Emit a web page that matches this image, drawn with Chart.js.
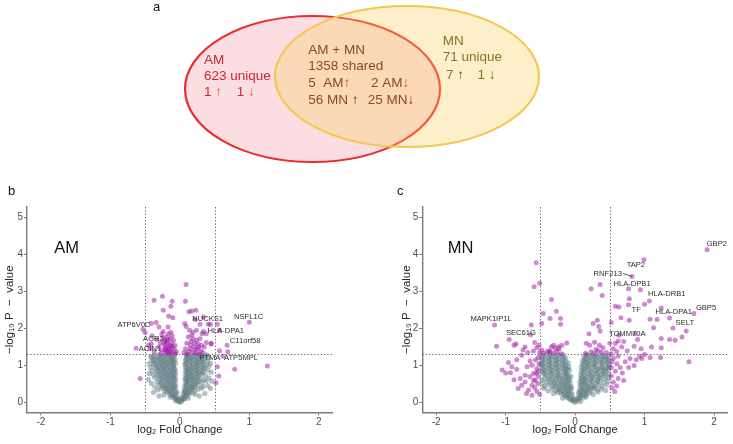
<!DOCTYPE html>
<html>
<head>
<meta charset="utf-8">
<script src="https://cdn.jsdelivr.net/npm/chart.js@4.4.1/dist/chart.umd.min.js"></script>
<style>
body { margin: 0; background: #fff; }
#wrap { position: relative; width: 733px; height: 444px; font-family: Arial, "Liberation Sans", sans-serif; }
#wrap canvas { position: absolute; }
.tag { position: absolute; font-size: 13px; color: #111; line-height: 13px; }
</style>
</head>
<body>
<div id="wrap">
  <canvas id="venn" width="733" height="200" style="left:0;top:0"></canvas>
  <canvas id="volcano-am" width="367" height="244" style="left:0;top:200px"></canvas>
  <canvas id="volcano-mn" width="366" height="244" style="left:367px;top:200px"></canvas>
  <div class="tag" style="left:153px;top:0px">a</div>
  <div class="tag" style="left:8px;top:184px">b</div>
  <div class="tag" style="left:397px;top:184px">c</div>
</div>
<script>
// ---- data ----
const vennSets = ['AM', 'AM + MN', 'MN'];
const vennCounts = [623, 1358, 71];
const vennKinds = ['unique', 'shared', 'unique'];
const amOnlyUpDown = [1, 1];
const sharedAmUpDown = [5, 2];
const sharedMnUpDown = [56, 25];
const mnOnlyUpDown = [7, 1];

const xTicks = [-2, -1, 0, 1, 2];
const yTicks = [0, 1, 2, 3, 4, 5];
const fcCut = 0.5;
const pCut = 0.05;

// AM: significant / changed proteins [log2FC, -log10 p]
const amSig = [
  [0.09,3.18],[-0.37,2.76],[-0.25,2.87],[-0.11,2.73],[0.08,2.73],[-0.24,2.49],[-0.13,2.60],[0.13,2.45],
  [0.17,2.47],[0.23,2.49],[-0.16,2.33],[-0.10,2.29],[0.34,2.31],[0.22,2.24],[0.29,2.11],[0.41,2.11],
  [0.54,2.11],[1.00,2.17],[0.07,2.13],[0.44,2.11],
  [-0.41,2.13],[-0.34,2.16],[-0.53,1.98],[-0.50,1.89],[-0.30,2.04],[-0.24,1.92],[-0.17,2.04],[-0.13,1.90],
  [-0.19,1.77],[-0.22,1.68],[-0.63,1.47],[-0.41,1.59],[-0.43,1.46],[-0.37,1.37],
  [-0.22,1.55],[-0.18,1.50],[-0.12,1.60],[-0.08,1.45],[-0.15,1.40],[-0.20,1.35],[-0.10,1.35],[-0.05,1.38],
  [-0.25,1.42],[-0.28,1.60],[-0.30,1.50],[-0.14,1.72],[-0.19,1.65],[-0.07,1.55],[-0.24,1.75],[-0.26,1.85],
  [-0.17,1.85],[-0.11,1.80],[-0.33,1.70],[-0.40,1.80],[-0.45,1.55],[-0.16,1.32],[-0.12,1.47],[-0.21,1.42],
  [-0.09,1.68],[-0.27,1.33],[-0.06,1.32],[-0.18,1.60],[-0.14,1.55],[-0.16,1.45],[-0.13,1.36],[-0.19,1.40],
  [-0.23,1.62],[-0.11,1.52],[-0.17,1.70],[-0.21,1.48],
  [0.12,1.77],[0.17,1.82],[0.24,1.68],[0.29,1.72],[0.10,1.60],[0.15,1.55],[0.20,1.50],[0.25,1.45],
  [0.30,1.40],[0.08,1.45],[0.13,1.38],[0.18,1.35],[0.23,1.33],[0.28,1.32],[0.33,1.35],[0.35,1.50],
  [0.38,1.62],[0.06,1.35],[0.10,1.32],[0.16,1.65],[0.21,1.60],[0.26,1.58],[0.31,1.55],[0.19,1.90],
  [0.24,1.95],[0.14,1.95],[0.09,2.05],[0.32,1.86],[0.38,1.86],[0.34,1.92],[0.45,1.58],[0.57,1.95],
  [0.68,1.55],[0.57,1.40],[0.69,1.37],[0.45,1.60],[0.22,1.42],[0.27,1.50],[0.15,1.45],[0.19,1.72],
  [-0.57,0.65],[1.26,0.99],[0.79,0.90],[0.54,0.97],[0.56,0.72],[0.52,0.54],[0.62,1.25]
];
// AM: not significant
const amGray = [
  [0,0.01],[-0.02,0.04],[0.02,0.03],[0.04,0.07],[-0.04,0.08],[0.01,0.09],[-0.06,0.05],[0.06,0.1],
  [-0.08,0.13],[-0.05,0.16],[-0.02,0.12],[0.03,0.15],[0.07,0.13],[0.1,0.18],[-0.11,0.19],[0.12,0.12],[-0.14,0.15],
  [-0.15,0.24],[-0.11,0.27],[-0.07,0.22],[-0.04,0.28],[0.05,0.25],[0.08,0.22],[0.11,0.28],[0.14,0.24],[-0.19,0.29],[0.18,0.27],[-0.23,0.21],[0.22,0.23],
  [-0.22,0.33],[-0.18,0.37],[-0.14,0.32],[-0.1,0.36],[-0.06,0.39],[0.06,0.34],[0.09,0.38],[0.13,0.33],[0.17,0.37],[0.21,0.32],[-0.27,0.38],[0.26,0.36],[-0.32,0.34],[0.31,0.39],
  [-0.25,0.43],[-0.21,0.47],[-0.17,0.42],[-0.13,0.46],[-0.09,0.43],[-0.06,0.48],[0.07,0.44],[0.1,0.48],[0.14,0.42],[0.18,0.46],[0.22,0.43],[0.26,0.48],[-0.3,0.47],[-0.36,0.42],[0.33,0.44],[0.4,0.46],
  [-0.28,0.53],[-0.23,0.57],[-0.19,0.52],[-0.15,0.56],[-0.11,0.53],[-0.07,0.58],[0.08,0.54],[0.11,0.58],[0.15,0.52],[0.19,0.56],[0.23,0.53],[0.27,0.58],[-0.33,0.56],[-0.41,0.52],[0.32,0.55],[0.38,0.59],
  [-0.3,0.63],[-0.25,0.67],[-0.21,0.62],[-0.17,0.66],[-0.13,0.63],[-0.09,0.68],[-0.06,0.64],[0.07,0.65],[0.1,0.68],[0.13,0.62],[0.17,0.66],[0.21,0.63],[0.25,0.68],[0.29,0.64],[-0.36,0.68],[0.35,0.62],[0.42,0.67],
  [-0.32,0.73],[-0.27,0.77],[-0.23,0.72],[-0.19,0.76],[-0.15,0.73],[-0.11,0.78],[-0.07,0.74],[0.08,0.75],[0.12,0.72],[0.15,0.78],[0.19,0.73],[0.23,0.77],[0.27,0.72],[0.31,0.76],[-0.38,0.75],[-0.44,0.79],[0.37,0.74],
  [-0.34,0.83],[-0.29,0.87],[-0.25,0.82],[-0.21,0.86],[-0.17,0.83],[-0.13,0.88],[-0.09,0.84],[-0.06,0.81],[0.08,0.85],[0.11,0.82],[0.14,0.88],[0.18,0.83],[0.22,0.87],[0.26,0.82],[0.3,0.86],[0.34,0.84],[-0.4,0.86],[0.4,0.88],[0.45,0.82],
  [-0.35,0.93],[-0.31,0.97],[-0.27,0.92],[-0.23,0.96],[-0.19,0.93],[-0.15,0.98],[-0.11,0.94],[-0.07,0.91],[0.08,0.95],[0.12,0.92],[0.16,0.98],[0.2,0.93],[0.24,0.97],[0.28,0.92],[0.32,0.96],[0.36,0.93],[-0.42,0.95],[0.42,0.99],
  [-0.38,1.03],[-0.33,1.07],[-0.29,1.02],[-0.25,1.06],[-0.21,1.03],[-0.17,1.08],[-0.13,1.04],[-0.09,1.01],[-0.06,1.07],[0.07,1.04],[0.1,1.08],[0.14,1.02],[0.18,1.06],[0.22,1.03],[0.26,1.08],[0.3,1.04],[0.34,1.07],[0.38,1.02],[-0.44,1.05],[0.44,1.06],
  [-0.4,1.13],[-0.35,1.17],[-0.31,1.12],[-0.27,1.16],[-0.23,1.13],[-0.19,1.18],[-0.15,1.14],[-0.11,1.11],[-0.07,1.17],[0.08,1.14],[0.11,1.18],[0.15,1.12],[0.19,1.16],[0.23,1.13],[0.27,1.18],[0.31,1.14],[0.35,1.17],[0.4,1.12],
  [-0.42,1.23],[-0.37,1.27],[-0.33,1.22],[-0.28,1.26],[-0.24,1.23],[-0.2,1.28],[-0.16,1.24],[-0.12,1.21],[-0.08,1.27],[0.09,1.24],[0.12,1.28],[0.16,1.22],[0.2,1.26],[0.24,1.23],[0.28,1.28],[0.32,1.24],[0.37,1.27],[0.41,1.21],
  [-0.03,0.06],[0.03,0.1],[-0.06,0.11],[0.06,0.16],[-0.09,0.18],[0.09,0.2],[-0.12,0.23],[-0.05,0.26],[0.07,0.28],[0.12,0.26],
  [-0.16,0.31],[-0.08,0.33],[0.08,0.31],[0.15,0.35],[-0.2,0.39],[-0.12,0.4],[0.11,0.39],[0.19,0.41],[-0.23,0.45],[-0.15,0.49],
  [-0.08,0.46],[0.09,0.47],[0.16,0.45],[0.21,0.49],[-0.26,0.55],[-0.17,0.59],[-0.09,0.55],[0.1,0.56],[0.17,0.6],[0.25,0.55],
  [-0.27,0.65],[-0.19,0.69],[-0.11,0.66],[0.09,0.63],[0.15,0.69],[0.23,0.66],[-0.29,0.75],[-0.21,0.79],[-0.13,0.76],[-0.09,0.71],
  [0.1,0.77],[0.17,0.75],[0.25,0.79],[-0.31,0.85],[-0.23,0.89],[-0.15,0.86],[-0.08,0.89],[0.1,0.88],[0.16,0.85],[0.24,0.89],
  [0.32,0.81],[-0.33,0.95],[-0.25,0.99],[-0.17,0.96],[-0.09,0.99],[0.1,0.97],[0.18,0.95],[0.26,0.99],[0.34,0.95],[-0.36,1.05],
  [-0.27,1.09],[-0.19,1.06],[-0.11,1.09],[0.09,1.06],[0.16,1.09],[0.24,1.06],[0.32,1.09],[-0.38,1.15],[-0.29,1.19],[-0.21,1.16],
  [-0.13,1.19],[-0.09,1.13],[0.1,1.16],[0.17,1.19],[0.25,1.15],[0.33,1.19],[-0.4,1.25],[-0.3,1.29],[-0.22,1.26],[-0.14,1.29],
  [-0.1,1.23],[0.1,1.27],[0.14,1.25],[0.22,1.29],[0.3,1.26],[0.39,1.29],
  [-0.38,0.28],[0.36,0.25],[0.44,0.38],[-0.45,0.62],[0.46,0.58],[0.28,0.18],[-0.3,0.18]
];
const amGenes = ['ATP6V0C', 'AGR2', 'ACIN1', 'NUCKS1', 'NSFL1C', 'HLA-DPA1', 'C11orf58', 'PTMA', 'ATP5MPL'];
const amGeneX = [-0.66, -0.38, -0.43, 0.40, 0.99, 0.66, 0.94, 0.43, 0.88];
const amGeneY = [2.09, 1.73, 1.46, 2.27, 2.31, 1.94, 1.67, 1.20, 1.21];

// MN: significant / changed proteins
const mnSig = [
  [1.90,4.12],[0.99,3.85],[0.82,3.40],[-0.56,3.77],[-0.51,3.22],[-0.59,3.12],[0.23,3.07],[0.36,3.18],
  [0.39,2.89],[0.77,3.07],[0.94,3.04],[1.07,2.74],[1.00,2.65],[0.78,2.80],
  [-0.34,2.78],[-0.27,2.46],[-0.21,2.27],[-0.21,2.11],[-0.36,2.27],[-0.46,2.40],[-0.48,2.13],
  [0.58,2.60],[0.63,2.58],[0.77,2.64],[0.78,2.22],[1.08,2.25],[1.18,2.24],[1.24,2.55],[1.36,2.28],
  [1.71,2.40],[1.60,1.93],[1.41,2.01],[1.13,2.02],[1.24,1.73],[1.10,1.50],[1.24,1.48],[1.36,1.70],
  [1.44,1.68],[1.54,1.77],[1.64,1.10],[1.23,1.22],[1.08,1.22],[0.96,1.19],[0.88,1.16],[0.79,1.19],
  [0.86,1.86],[0.63,1.82],[0.67,1.50],[0.66,2.29],[0.52,2.16],[0.77,0.95],
  [-1.16,2.09],[-0.64,1.83],[-0.95,1.70],[-1.13,1.52],[-0.88,1.55],[-0.85,1.58],[-0.72,1.50],[-0.63,2.09],
  [-0.48,1.42],[-0.34,1.51],[-0.29,1.46],[-0.23,1.45],[-0.12,1.61],[-0.40,1.38],[-0.45,1.33],[-0.52,1.55],
  [-0.55,1.48],[-0.51,1.35],[-0.36,1.36],[-0.31,1.33],[-0.26,1.38],[-0.20,1.32],[-0.58,1.62],[-0.60,1.39],
  [-0.68,1.35],[-0.75,1.42],[-0.31,1.55],[-0.24,1.51],[-0.19,1.55],[-0.37,1.40],
  [-0.77,1.28],[-0.84,1.16],[-0.96,1.08],[-0.91,0.97],[-0.84,0.90],[-0.93,0.81],[-0.69,0.97],[-0.62,1.01],
  [-0.57,1.15],[-0.55,0.92],[-0.60,0.79],[-0.72,0.74],[-0.65,0.70],[-0.79,0.65],[-0.72,0.56],[-0.57,0.61],
  [-0.54,0.52],[-0.62,0.47],[-0.77,0.47],[-0.67,0.34],[-0.55,0.30],[-0.52,1.05],[-0.53,0.85],[-0.58,0.40],
  [-0.51,0.22],[-0.62,0.20],[-0.70,0.25],[-0.82,0.38],[-1.00,0.80],[-1.05,0.88],[-0.88,0.62],[-0.53,1.22],
  [-0.65,1.12],[-0.60,0.60],[-0.53,0.72],[-0.56,0.80],
  [0.32,2.22],[0.26,2.13],[0.34,2.05],[0.36,1.93],[0.20,1.86],[0.16,1.60],[0.21,1.55],[0.28,1.63],
  [0.35,1.55],[0.23,1.37],[0.30,1.43],[0.15,1.33],[0.40,1.48],[0.45,1.35],[0.38,1.36],[0.27,1.32],
  [0.50,1.60],[0.55,1.45],[0.60,1.38],[0.52,1.32],[0.58,1.60],[0.70,1.65],[0.75,1.40],[0.85,1.52],
  [0.95,1.45],[0.90,1.70],[0.62,1.66],[0.33,1.40],
  [0.55,1.20],[0.60,1.05],[0.65,0.95],[0.58,0.85],[0.52,0.72],[0.62,0.65],[0.55,0.55],[0.60,0.45],
  [0.53,0.40],[0.70,0.60],[0.72,1.10],[0.85,1.00],[0.68,0.80],[0.52,0.95],[0.62,1.25],[1.00,1.30],
  [0.93,1.25],[0.53,1.10],[0.57,0.30]
];
// MN: not significant
const mnGray = [
  [0,0.01],[-0.03,0.04],[0.02,0.05],[0.05,0.08],[-0.06,0.07],[-0.01,0.09],[0.08,0.03],
  [-0.1,0.13],[-0.06,0.17],[-0.03,0.12],[0.04,0.14],[0.08,0.18],[0.12,0.13],[-0.14,0.18],[0.16,0.16],[-0.18,0.12],
  [-0.2,0.24],[-0.15,0.27],[-0.11,0.22],[-0.07,0.28],[-0.04,0.23],[0.05,0.26],[0.09,0.22],[0.13,0.28],[0.17,0.24],[0.21,0.27],[-0.25,0.28],[0.26,0.22],[-0.31,0.25],[0.33,0.29],
  [-0.27,0.33],[-0.22,0.37],[-0.18,0.32],[-0.13,0.36],[-0.09,0.33],[-0.05,0.38],[0.06,0.34],[0.1,0.38],[0.14,0.32],[0.18,0.36],[0.23,0.33],[0.27,0.38],[-0.33,0.37],[-0.39,0.32],[0.32,0.34],[0.38,0.37],[0.44,0.33],[-0.45,0.39],
  [-0.32,0.43],[-0.27,0.47],[-0.22,0.42],[-0.18,0.46],[-0.14,0.43],[-0.1,0.48],[-0.06,0.44],[0.07,0.45],[0.11,0.42],[0.15,0.48],[0.19,0.43],[0.24,0.47],[0.28,0.42],[0.33,0.46],[-0.38,0.48],[-0.44,0.44],[0.39,0.44],[0.46,0.48],
  [-0.35,0.53],[-0.3,0.57],[-0.25,0.52],[-0.2,0.56],[-0.16,0.53],[-0.12,0.58],[-0.07,0.54],[0.07,0.55],[0.11,0.52],[0.16,0.58],[0.2,0.53],[0.25,0.57],[0.3,0.52],[0.35,0.56],[-0.41,0.56],[-0.47,0.52],[0.41,0.54],[0.47,0.58],
  [-0.38,0.63],[-0.33,0.67],[-0.28,0.62],[-0.23,0.66],[-0.18,0.63],[-0.13,0.68],[-0.08,0.64],[0.08,0.65],[0.12,0.62],[0.17,0.68],[0.22,0.63],[0.27,0.67],[0.32,0.62],[0.37,0.66],[-0.44,0.66],[-0.48,0.62],[0.43,0.64],[0.48,0.68],
  [-0.4,0.73],[-0.35,0.77],[-0.3,0.72],[-0.25,0.76],[-0.2,0.73],[-0.15,0.78],[-0.1,0.74],[-0.06,0.71],[0.08,0.75],[0.13,0.72],[0.18,0.78],[0.23,0.73],[0.28,0.77],[0.33,0.72],[0.38,0.76],[0.43,0.73],[-0.45,0.79],[0.48,0.77],
  [-0.47,0.83],[-0.42,0.87],[-0.37,0.82],[-0.32,0.86],[-0.27,0.83],[-0.22,0.88],[-0.17,0.84],[-0.12,0.81],[-0.08,0.87],[0.09,0.85],[0.14,0.82],[0.19,0.88],[0.24,0.83],[0.29,0.87],[0.34,0.82],[0.39,0.86],[0.44,0.83],[0.48,0.88],
  [-0.48,0.93],[-0.43,0.97],[-0.38,0.92],[-0.33,0.96],[-0.28,0.93],[-0.23,0.98],[-0.18,0.94],[-0.13,0.91],[-0.09,0.97],[0.09,0.95],[0.14,0.92],[0.19,0.98],[0.24,0.93],[0.29,0.97],[0.34,0.92],[0.39,0.96],[0.44,0.93],[0.49,0.98],
  [-0.49,1.03],[-0.44,1.07],[-0.39,1.02],[-0.34,1.06],[-0.29,1.03],[-0.24,1.08],[-0.19,1.04],[-0.14,1.01],[-0.1,1.07],[0.1,1.04],[0.15,1.08],[0.2,1.02],[0.25,1.06],[0.3,1.03],[0.35,1.08],[0.4,1.04],[0.45,1.07],[0.49,1.02],
  [-0.48,1.13],[-0.43,1.17],[-0.38,1.12],[-0.33,1.16],[-0.28,1.13],[-0.23,1.18],[-0.18,1.14],[-0.13,1.11],[0.11,1.14],[0.16,1.18],[0.21,1.12],[0.26,1.16],[0.31,1.13],[0.36,1.18],[0.41,1.14],[0.46,1.17],
  [-0.49,1.23],[-0.44,1.27],[-0.39,1.22],[-0.34,1.26],[-0.29,1.23],[-0.24,1.28],[-0.19,1.24],[-0.14,1.21],[0.13,1.24],[0.18,1.28],[0.23,1.22],[0.28,1.26],[0.33,1.23],[0.38,1.28],[0.43,1.24],[0.48,1.27],
  [-0.04,0.08],[0.04,0.11],[-0.08,0.1],[0.07,0.14],[-0.12,0.16],[0.1,0.2],[-0.16,0.22],[-0.09,0.25],[0.07,0.24],[0.15,0.21],
  [-0.2,0.3],[-0.11,0.31],[0.08,0.3],[0.16,0.31],[-0.24,0.35],[-0.16,0.39],[-0.07,0.41],[0.12,0.35],[0.21,0.39],[-0.29,0.45],
  [-0.2,0.49],[-0.12,0.45],[0.09,0.48],[0.17,0.46],[0.26,0.44],[-0.32,0.55],[-0.23,0.59],[-0.14,0.55],[-0.09,0.59],[0.09,0.58],
  [0.14,0.55],[0.23,0.59],[0.32,0.58],[-0.36,0.65],[-0.26,0.69],[-0.16,0.66],[-0.1,0.68],[0.1,0.68],[0.15,0.65],[0.25,0.69],
  [0.35,0.68],[-0.43,0.75],[-0.33,0.79],[-0.23,0.75],[-0.13,0.79],[0.11,0.79],[0.21,0.76],[0.31,0.79],[0.41,0.79],[-0.45,0.86],
  [-0.35,0.89],[-0.25,0.86],[-0.15,0.89],[0.12,0.89],[0.22,0.86],[0.32,0.89],[0.42,0.89],[-0.46,0.96],[-0.36,0.99],[-0.26,0.96],
  [-0.16,0.99],[-0.11,0.92],[0.12,0.99],[0.17,0.95],[0.27,0.99],[0.37,0.95],[0.47,0.95],[-0.47,1.06],[-0.37,1.09],[-0.27,1.06],
  [-0.17,1.09],[0.13,1.09],[0.18,1.05],[0.28,1.09],[0.38,1.06],[0.47,1.09],[-0.46,1.16],[-0.36,1.19],[-0.26,1.16],[-0.16,1.19],
  [0.14,1.19],[0.19,1.15],[0.29,1.19],[0.39,1.16],[0.49,1.15],[-0.47,1.26],[-0.37,1.29],[-0.27,1.26],[-0.17,1.29],[0.16,1.29],
  [0.21,1.26],[0.31,1.29],[0.41,1.26],[0.46,1.21]
];
const mnGenes = ['GBP2', 'TAP2', 'RNF213', 'HLA-DPB1', 'HLA-DRB1', 'TF', 'HLA-DPA1', 'GBP5', 'SELT', 'TOMM70A', 'MAPK1IP1L', 'SEC61G'];
const mnGeneX = [2.04, 0.875, 0.47, 0.82, 1.32, 0.88, 1.42, 1.885, 1.58, 0.75, -1.21, -0.78];
const mnGeneY = [4.27, 3.70, 3.48, 3.21, 2.92, 2.49, 2.45, 2.54, 2.15, 1.85, 2.25, 1.89];

Chart.defaults.font.family = 'Arial, "Liberation Sans", sans-serif';

// ---- venn diagram (a) ----
const vennPlugin = {
  id: 'vennDraw',
  afterDraw(chart) {
    const ctx = chart.ctx;
    const sx = chart.scales.x, sy = chart.scales.y;
    function ellipse(cx, cy, rx, ry, fill, stroke) {
      const x0 = sx.getPixelForValue(cx), y0 = sy.getPixelForValue(cy);
      ctx.beginPath();
      ctx.ellipse(x0, y0, sx.getPixelForValue(cx + rx) - x0, Math.abs(sy.getPixelForValue(cy + ry) - y0), 0, 0, Math.PI * 2);
      ctx.fillStyle = fill;
      ctx.fill();
      ctx.lineWidth = 2.2;
      ctx.strokeStyle = stroke;
      ctx.stroke();
    }
    function runs(x, y, parts) {
      let xx = sx.getPixelForValue(x);
      parts.forEach(function(p) {
        ctx.fillStyle = p[1];
        ctx.fillText(p[0], xx, sy.getPixelForValue(y));
        xx += ctx.measureText(p[0]).width;
      });
    }
    ctx.save();
    ellipse(312.5, 89, 127.5, 73, 'rgba(245,120,135,0.25)', '#ee2a2a');
    ellipse(407, 76.5, 132, 70.5, 'rgba(250,205,90,0.32)', '#f6c750');

    ctx.font = '13.5px Arial, "Liberation Sans", sans-serif';
    ctx.textBaseline = 'middle';
    ctx.textAlign = 'left';
    const red = '#cc2630', redArrow = '#d2691e';
    const brown = '#8b4b22', amArrow = '#b8601e', mnArrow = '#6b3a14';
    const olive = '#8a7222', oliveArrow = '#6e5a12';
    // AM only
    runs(204, 60.7, [[vennSets[0], red]]);
    runs(204, 76.7, [[vennCounts[0] + ' ' + vennKinds[0], red]]);
    runs(204, 92.7, [[String(amOnlyUpDown[0]) + ' ', red], ['↑', redArrow]]);
    runs(236.7, 92.7, [[String(amOnlyUpDown[1]) + ' ', red], ['↓', redArrow]]);
    // shared
    runs(308.3, 50.7, [[vennSets[1], brown]]);
    runs(308.3, 66.7, [[vennCounts[1] + ' ' + vennKinds[1], brown]]);
    runs(308.3, 83.3, [[sharedAmUpDown[0] + '  AM', brown], ['↑', amArrow]]);
    runs(371, 83.3, [[sharedAmUpDown[1] + ' AM', brown], ['↓', amArrow]]);
    runs(308.3, 100, [[sharedMnUpDown[0] + ' MN ', brown], ['↑', mnArrow]]);
    runs(367.7, 100, [[sharedMnUpDown[1] + ' MN', brown], ['↓', mnArrow]]);
    // MN only
    runs(442.7, 41.7, [[vennSets[2], olive]]);
    runs(442.7, 57.7, [[vennCounts[2] + ' ' + vennKinds[2], olive]]);
    runs(446, 75, [[mnOnlyUpDown[0] + ' ', olive], ['↑', oliveArrow]]);
    runs(477.5, 75, [[mnOnlyUpDown[1] + ' ', olive], ['↓', oliveArrow]]);
    ctx.restore();
  }
};

new Chart(document.getElementById('venn'), {
  type: 'scatter',
  data: { datasets: [] },
  options: {
    responsive: false,
    animation: false,
    layout: { padding: 0 },
    plugins: { legend: { display: false }, tooltip: { enabled: false } },
    scales: {
      x: { display: false, min: 0, max: 733 },
      y: { display: false, min: 0, max: 200, reverse: true }
    }
  },
  plugins: [vennPlugin]
});

// ---- volcano plots (b, c) ----
const volcanoDecor = {
  id: 'volcanoDecor',
  beforeDatasetsDraw(chart, args, opts) {
    const ctx = chart.ctx, a = chart.chartArea;
    const sx = chart.scales.x, sy = chart.scales.y;
    ctx.save();
    ctx.strokeStyle = '#666';
    ctx.lineWidth = 1;
    ctx.setLineDash([1.3, 2]);
    [-fcCut, fcCut].forEach(function(v) {
      const px = Math.round(sx.getPixelForValue(v)) + 0.5;
      ctx.beginPath(); ctx.moveTo(px, a.top); ctx.lineTo(px, a.bottom); ctx.stroke();
    });
    const py = Math.round(sy.getPixelForValue(-Math.log10(pCut))) + 0.5;
    ctx.beginPath(); ctx.moveTo(a.left, py); ctx.lineTo(a.right, py); ctx.stroke();
    ctx.restore();
  },
  afterDatasetsDraw(chart, args, opts) {
    const ctx = chart.ctx;
    const sx = chart.scales.x, sy = chart.scales.y;
    ctx.save();
    ctx.textAlign = 'center';
    ctx.textBaseline = 'middle';
    ctx.fillStyle = '#111';
    ctx.font = '16.5px Arial, "Liberation Sans", sans-serif';
    ctx.fillText(opts.name, sx.getPixelForValue(opts.nameX), sy.getPixelForValue(opts.nameY));
    ctx.font = '7.6px Arial, "Liberation Sans", sans-serif';
    ctx.fillStyle = '#2a2a2a';
    opts.genes.forEach(function(g, i) {
      ctx.fillText(g, sx.getPixelForValue(opts.gx[i]), sy.getPixelForValue(opts.gy[i]));
    });
    if (opts.leader) {
      const l = opts.leader;
      ctx.strokeStyle = '#333';
      ctx.lineWidth = 0.8;
      ctx.beginPath();
      ctx.moveTo(sx.getPixelForValue(l[0]), sy.getPixelForValue(l[1]));
      ctx.lineTo(sx.getPixelForValue(l[2]), sy.getPixelForValue(l[3]));
      ctx.stroke();
    }
    ctx.restore();
  }
};

function toPoints(list) {
  return list.map(function(p) { return { x: p[0], y: p[1] }; });
}

function volcano(canvasId, sig, gray, padLeft, yWidth, padRight, decor) {
  return new Chart(document.getElementById(canvasId), {
    type: 'scatter',
    data: {
      datasets: [{
        label: 'significant',
        data: toPoints(sig),
        backgroundColor: 'rgba(158,22,162,0.5)',
        pointBackgroundColor: 'rgba(158,22,162,0.5)',
        pointBorderWidth: 0,
        pointBorderColor: 'rgba(0,0,0,0)',
        borderWidth: 0,
        pointRadius: 2.5,
        order: 1
      }, {
        label: 'not significant',
        data: toPoints(gray),
        backgroundColor: 'rgba(96,126,132,0.48)',
        pointBackgroundColor: 'rgba(96,126,132,0.48)',
        pointBorderWidth: 0,
        pointBorderColor: 'rgba(0,0,0,0)',
        borderWidth: 0,
        pointRadius: 2.6,
        order: 2
      }]
    },
    options: {
      responsive: false,
      animation: false,
      layout: { padding: { left: padLeft, right: padRight, top: 6.7, bottom: 0 } },
      plugins: {
        legend: { display: false },
        tooltip: { enabled: false },
        volcanoDecor: decor
      },
      scales: {
        x: {
          type: 'linear',
          min: -2.2,
          max: 2.2,
          afterBuildTicks: function(scale) { scale.ticks = xTicks.map(function(v) { return { value: v }; }); },
          afterFit: function(scale) { scale.height = 31.7; },
          grid: { drawOnChartArea: false, drawTicks: true, tickLength: 3, color: '#7a7a7a' },
          border: { display: true, color: '#7a7a7a', width: 1.4 },
          ticks: { color: '#4d4d4d', font: { size: 10 }, padding: 1 },
          title: { display: true, text: 'log₂ Fold Change', color: '#222', font: { size: 11 }, padding: { top: 0, bottom: 7 } }
        },
        y: {
          type: 'linear',
          min: -0.258,
          max: 5.27,
          afterBuildTicks: function(scale) { scale.ticks = yTicks.map(function(v) { return { value: v }; }); },
          afterFit: function(scale) { scale.width = yWidth; },
          grid: { drawOnChartArea: false, drawTicks: true, tickLength: 3, color: '#7a7a7a' },
          border: { display: true, color: '#7a7a7a', width: 1.4 },
          ticks: { color: '#4d4d4d', font: { size: 10 }, padding: 1 },
          title: { display: true, text: '−log₁₀ P  −  value', color: '#222', font: { size: 11.5 }, padding: { top: 3, bottom: 0 } }
        }
      }
    },
    plugins: [volcanoDecor]
  });
}

volcano('volcano-am', amSig, amGray, 0, 27, 34.3, {
  name: 'AM', nameX: -1.63, nameY: 4.16,
  genes: amGenes, gx: amGeneX, gy: amGeneY
});

volcano('volcano-mn', mnSig, mnGray, 30, 25.3, 5.1, {
  name: 'MN', nameX: -1.65, nameY: 4.16,
  genes: mnGenes, gx: mnGeneX, gy: mnGeneY,
  leader: [0.69, 3.48, 0.82, 3.40]
});
</script>
</body>
</html>
